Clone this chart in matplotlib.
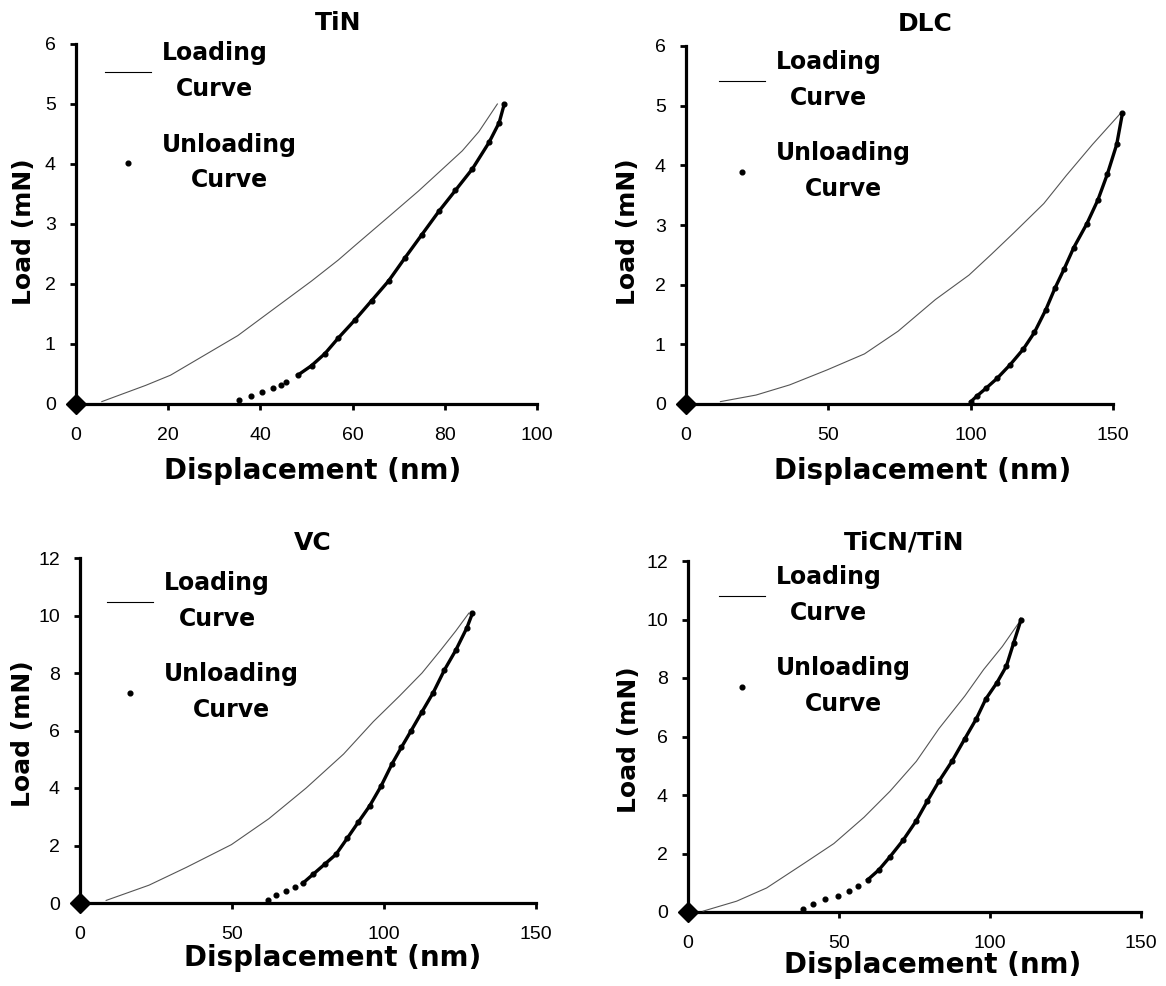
import matplotlib
matplotlib.use("Agg")
import matplotlib.pyplot as plt

# ---------------- data ----------------
titles = ["TiN", "DLC", "VC", "TiCN/TiN"]

tin_load_x = [5.6, 15.1, 20.5, 27.8, 35.1, 42.3, 51.1, 56.9, 60.5, 67.8, 74.3, 78.7, 83.8, 87.4, 91.4]
tin_load_y = [0.04, 0.31, 0.48, 0.81, 1.14, 1.55, 2.05, 2.40, 2.64, 3.12, 3.55, 3.86, 4.22, 4.54, 5.00]
tin_unl_x = [92.9, 91.8, 89.6, 86.0, 82.3, 78.7, 75.0, 71.4, 67.8, 64.1, 60.5, 56.9, 54.0, 51.1, 48.1,
             45.6, 44.4, 42.7, 40.4, 38.0, 35.4]
tin_unl_y = [5.00, 4.69, 4.36, 3.92, 3.56, 3.21, 2.82, 2.44, 2.05, 1.72, 1.40, 1.10, 0.84, 0.64, 0.48,
             0.37, 0.31, 0.26, 0.20, 0.13, 0.07]

dlc_load_x = [12.1, 24.6, 36.4, 49.5, 62.7, 74.5, 87.6, 99.4, 107.3, 115.2, 125.7, 133.6, 142.8, 152.6]
dlc_load_y = [0.04, 0.15, 0.32, 0.57, 0.84, 1.22, 1.75, 2.16, 2.51, 2.87, 3.36, 3.83, 4.35, 4.87]
dlc_unl_x = [153.3, 151.3, 148.0, 144.7, 140.8, 136.2, 132.9, 129.6, 126.4, 122.4, 118.5, 113.9,
             109.3, 105.3, 102.1, 100.1]
dlc_unl_y = [4.87, 4.35, 3.85, 3.42, 3.02, 2.62, 2.27, 1.94, 1.58, 1.20, 0.92, 0.66,
             0.43, 0.26, 0.13, 0.04]

vc_load_x = [8.6, 22.7, 35.0, 49.8, 62.1, 74.4, 86.7, 96.5, 105.1, 112.5, 118.6, 123.6, 127.9]
vc_load_y = [0.09, 0.62, 1.24, 2.03, 2.93, 4.00, 5.18, 6.31, 7.20, 8.00, 8.79, 9.46, 10.08]
vc_unl_x = [129.1, 127.3, 123.6, 119.9, 116.2, 112.5, 108.8, 105.7, 102.7, 99.0, 95.3, 91.6,
            87.9, 84.2, 80.5, 76.8, 73.2, 70.7, 67.6, 64.6, 61.8]
vc_unl_y = [10.08, 9.58, 8.79, 8.11, 7.32, 6.65, 5.97, 5.41, 4.85, 4.06, 3.38, 2.82,
            2.25, 1.69, 1.35, 1.01, 0.68, 0.56, 0.43, 0.28, 0.11]

ticn_load_x = [5.0, 16.1, 26.0, 38.4, 48.3, 58.3, 66.9, 75.6, 83.1, 91.7, 97.9, 104.1, 110.3]
ticn_load_y = [0.03, 0.37, 0.82, 1.66, 2.34, 3.24, 4.13, 5.15, 6.27, 7.39, 8.29, 9.08, 10.0]
ticn_unl_x = [110.3, 107.8, 105.4, 102.3, 98.6, 95.5, 91.7, 87.4, 83.1, 79.3, 75.6, 71.2,
              66.9, 63.2, 59.5, 56.4, 53.3, 49.6, 45.2, 41.5, 38.1]
ticn_unl_y = [10.0, 9.19, 8.40, 7.84, 7.28, 6.61, 5.93, 5.15, 4.47, 3.80, 3.12, 2.45,
              1.89, 1.44, 1.10, 0.88, 0.71, 0.54, 0.43, 0.26, 0.11]

# number of leading unloading points that form the dense (continuous) part
dense_counts = [15, 16, 17, 15]

x_ticks = [[0, 20, 40, 60, 80, 100], [0, 50, 100, 150], [0, 50, 100, 150], [0, 50, 100, 150]]
y_ticks = [[0, 1, 2, 3, 4, 5, 6], [0, 1, 2, 3, 4, 5, 6],
           [0, 2, 4, 6, 8, 10, 12], [0, 2, 4, 6, 8, 10, 12]]

origin_x = [0]
origin_y = [0]

# ---------------- layout / style ----------------
panels = [
    (tin_load_x, tin_load_y, tin_unl_x, tin_unl_y),
    (dlc_load_x, dlc_load_y, dlc_unl_x, dlc_unl_y),
    (vc_load_x, vc_load_y, vc_unl_x, vc_unl_y),
    (ticn_load_x, ticn_load_y, ticn_unl_x, ticn_unl_y),
]
W, H = 1166, 986
# axes pixel boxes: left, right, y-of-zero, y-of-top
boxes = [(76, 537, 404, 44), (686, 1113, 404, 46), (80, 536, 903, 558), (688, 1141, 912, 561)]
title_x = [0.568, 0.56, 0.51, 0.478]
title_pad = [10, 11, 6, 8]
xlabel_pos = [(0.514, -0.147), (0.555, -0.148), (0.553, -0.119), (0.539, -0.111)]
ylabel_pos = [(-0.087, 0.48), (-0.108, 0.48), (-0.099, 0.49), (-0.104, 0.49)]
legend_anchor = [(0.063, 1.007), (0.078, 0.988), (0.06, 0.961), (0.068, 0.988)]

fig = plt.figure(figsize=(W / 100, H / 100), dpi=100)

tick_font = {"family": "Liberation Sans", "size": 14}
bold_font = "DejaVu Sans"

for i, (lx, ly, ux, uy) in enumerate(panels):
    l, r, y0, yt = boxes[i]
    ax = fig.add_axes([l / W, 1 - y0 / H, (r - l) / W, (y0 - yt) / H])
    ax.set_xlim(x_ticks[i][0], x_ticks[i][-1])
    ax.set_ylim(y_ticks[i][0], y_ticks[i][-1])
    ax.set_xticks(x_ticks[i])
    ax.set_yticks(y_ticks[i])
    for s in ["top", "right"]:
        ax.spines[s].set_visible(False)
    for s in ["left", "bottom"]:
        ax.spines[s].set_linewidth(2.3)
        ax.spines[s].set_color("black")
    ax.tick_params(axis="both", direction="out", length=4.5, width=2.0, color="black")
    ax.tick_params(axis="x", pad=12)
    ax.tick_params(axis="y", pad=10)
    for lab in ax.get_xticklabels() + ax.get_yticklabels():
        lab.set_fontfamily(tick_font["family"])
        lab.set_fontsize(tick_font["size"])

    ln_load, = ax.plot(lx, ly, "-", color="#555555", lw=0.8, clip_on=False,
                       label="Loading\nCurve", zorder=3)
    k = dense_counts[i]
    ax.plot(ux[:k], uy[:k], "-", color="black", lw=2.4, clip_on=False, zorder=4)
    ln_unl, = ax.plot(ux, uy, "o", color="black", ms=3.4, ls="none", clip_on=False,
                      label="Unloading\nCurve", zorder=4)
    ax.plot(origin_x, origin_y, "D", color="black", ms=10, clip_on=False, zorder=5)

    ax.set_title(titles[i], x=title_x[i], pad=title_pad[i], fontfamily=bold_font,
                 fontweight="bold", fontsize=18)
    ax.set_xlabel("Displacement (nm)", fontfamily=bold_font, fontweight="bold", fontsize=20)
    ax.set_ylabel("Load (mN)", fontfamily=bold_font, fontweight="bold", fontsize=18)
    ax.xaxis.set_label_coords(*xlabel_pos[i])
    ax.yaxis.set_label_coords(*ylabel_pos[i])

    leg = ax.legend(handles=[ln_load, ln_unl], loc="upper left",
                    bbox_to_anchor=legend_anchor[i], frameon=False,
                    prop={"family": bold_font, "weight": "bold", "size": 17},
                    handlelength=1.95, handletextpad=0.45, labelspacing=1.34,
                    borderpad=0, borderaxespad=0, numpoints=1)
    leg.get_lines()[0].set_color("black")
    for t in leg.get_texts():
        t.set_multialignment("center")
        t.set_linespacing(1.6)

fig.savefig("out.png", dpi=100)
